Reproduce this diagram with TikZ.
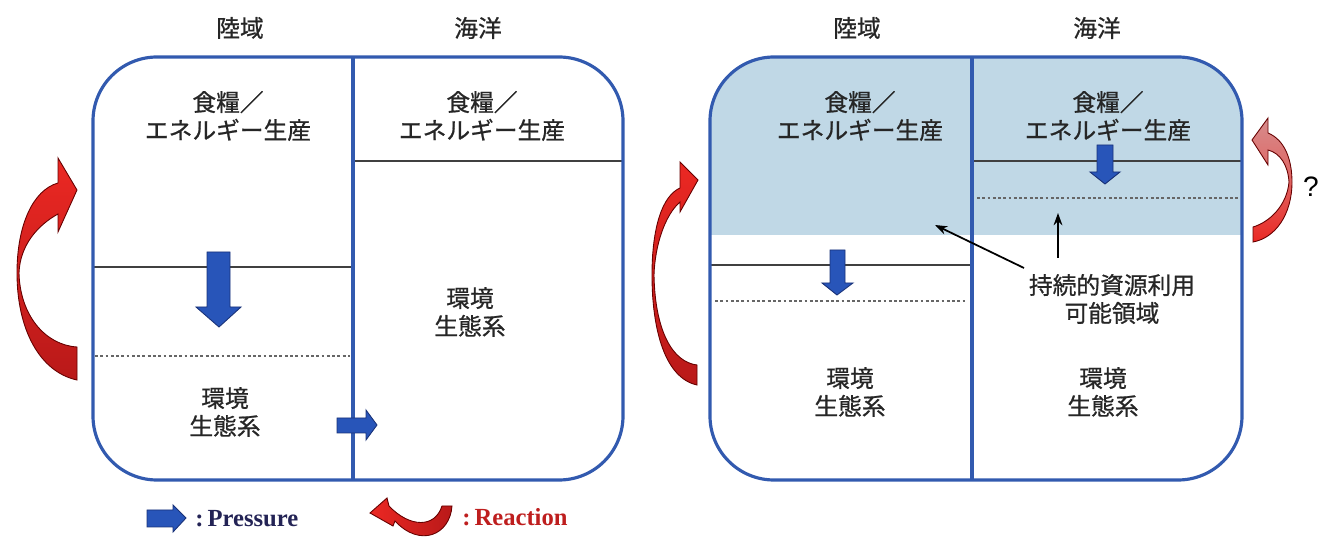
\documentclass[tikz,border=0pt]{standalone}
\usepackage{fontspec}
\setmainfont{Liberation Serif}
\newfontfamily\jp[FakeBold=0.8]{Noto Sans CJK JP}
\usetikzlibrary{arrows.meta}
\definecolor{boxblue}{RGB}{50,90,175}
\definecolor{arrblue}{RGB}{40,85,185}
\definecolor{arrbluedark}{RGB}{25,50,120}
\definecolor{zoneblue}{RGB}{192,216,230}
\definecolor{redA}{RGB}{235,40,35}
\definecolor{redB}{RGB}{185,25,25}
\definecolor{pinkA}{RGB}{215,140,140}
\definecolor{navy}{RGB}{35,35,85}
\definecolor{reacred}{RGB}{190,30,30}
\tikzset{
  frame/.style={draw=boxblue,line width=1.8pt,rounded corners=1.28cm},
  divider/.style={draw=boxblue,line width=1.8pt},
  solidline/.style={draw=black!75,line width=0.6pt},
  dotline/.style={draw=black!60,line width=0.6pt,dash pattern=on 1.6pt off 1.4pt},
  jptext/.style={font=\jp\fontsize{13.5}{15.9}\selectfont,align=center,inner sep=0pt,text=black!85},
  bluearrow/.style={fill=arrblue,draw=arrbluedark,line width=0.5pt},
  redarrow/.style={draw=black!60!red,line width=0.5pt,top color=redA,bottom color=redB},
  pointer/.style={draw=black,line width=1pt,-{Stealth[length=7pt,width=5pt]}},
}
\begin{document}
\begin{tikzpicture}[x=0.02cm,y=-0.02cm]
\useasboundingbox (0,0) rectangle (1323,540);
% ===== Left diagram =====
\node[jptext] (h1) at (240,28) {陸域};
\node[jptext] (h2) at (478,28) {海洋};
\draw[solidline] (93,267) -- (353,267);
\draw[dotline] (95,356) -- (350,356);
\draw[solidline] (353,161) -- (623,161);
\draw[frame] (93,57) rectangle (623,480);
\draw[divider] (353,57) -- (353,480);
\node[jptext] (l1food) at (228,116) {食糧／\\エネルギー生産};
\node[jptext] (l2food) at (482,116) {食糧／\\エネルギー生産};
\node[jptext] (l1env) at (225,412) {環境\\生態系};
\node[jptext] (l2env) at (470,312) {環境\\生態系};
% big down arrow
\draw[bluearrow] (207,252) -- (230,252) -- (230,307) -- (241,307) -- (219,327) -- (196,307) -- (207,307) -- cycle;
% small right arrow
\draw[bluearrow] (337,418) -- (366,418) -- (366,410) -- (377,425) -- (366,440) -- (366,433) -- (337,433) -- cycle;
% left reaction arrow
\draw[redarrow] (77,380) .. controls (40,372) and (17,330) .. (17,273)
  .. controls (17,225) and (33,190) .. (58,183)
  -- (58,158) -- (77,190) -- (58,232) -- (58,214)
  .. controls (38,225) and (20,245) .. (19,273)
  .. controls (20,315) and (45,345) .. (77,347) -- cycle;
% ===== Right diagram =====
\node[jptext] (h3) at (857,28) {陸域};
\node[jptext] (h4) at (1097,28) {海洋};
\begin{scope}
  \clip[rounded corners=1.28cm] (710,57) rectangle (1242,480);
  \fill[zoneblue] (705,50) rectangle (1250,235);
\end{scope}
\draw[solidline] (710,265) -- (972,265);
\draw[dotline] (715,301) -- (965,301);
\draw[solidline] (972,161) -- (1242,161);
\draw[dotline] (977,198) -- (1238,198);
\draw[frame] (710,57) rectangle (1242,480);
\draw[divider] (972,57) -- (972,480);
\node[jptext] (r1food) at (860,116) {食糧／\\エネルギー生産};
\node[jptext] (r2food) at (1108,116) {食糧／\\エネルギー生産};
\node[jptext] (r1env) at (850,392) {環境\\生態系};
\node[jptext] (r2env) at (1103,392) {環境\\生態系};
\node[jptext] (sus) at (1112,299) {持続的資源利用\\可能領域};
% blue arrows
\draw[bluearrow] (830,250) -- (845,250) -- (845,283) -- (853,283) -- (837,295) -- (822,283) -- (830,283) -- cycle;
\draw[bluearrow] (1097,145) -- (1113,145) -- (1113,172) -- (1120,172) -- (1105,184) -- (1090,172) -- (1097,172) -- cycle;
% pointers
\coordinate (p1s) at (1024,268);
\coordinate (p1e) at (935,225);
\coordinate (p2s) at (1058,258);
\coordinate (p2e) at (1058,213);
\draw[pointer] (p1s) -- (p1e);
\draw[pointer] (p2s) -- (p2e);
% left reaction arrow (right diagram)
\draw[redarrow] (697,385) .. controls (665,378) and (652,330) .. (652,275)
  .. controls (652,228) and (662,196) .. (680,188)
  -- (680,162) -- (698,180) -- (680,212) -- (680,202)
  .. controls (665,215) and (655,245) .. (654,275)
  .. controls (655,330) and (672,362) .. (697,365) -- cycle;
% "?" reaction arrow
\draw[draw=black!60!red,line width=0.5pt,top color=pinkA,bottom color=redA,middle color=pinkA!60!redA]
  (1268,133) .. controls (1285,140) and (1292,160) .. (1292,182)
  .. controls (1292,215) and (1275,238) .. (1253,242)
  -- (1253,227) .. controls (1270,222) and (1287,205) .. (1289,182)
  .. controls (1288,165) and (1280,153) .. (1268,150)
  -- (1268,165) -- (1252,140) -- (1268,118) -- cycle;
\node[font=\fontspec{Liberation Sans}\fontsize{16}{18}\selectfont,inner sep=0pt] (q) at (1311,187) {?};
% ===== Legend =====
\draw[bluearrow] (147,510) -- (173,510) -- (173,505) -- (186,518) -- (173,532) -- (173,527) -- (147,527) -- cycle;
\node[anchor=west,inner sep=0pt,text=navy,font=\bfseries\fontsize{14}{16}\selectfont] (press) at (195,519) {:\,Pressure};
\draw[draw=black!60!red,line width=0.5pt,left color=redA,right color=redB]
  (370,513) -- (387,498) -- (389,506) .. controls (410,528) and (435,528) .. (442,506)
  -- (452,506) .. controls (450,535) and (420,548) .. (395,521) -- (393,526) -- cycle;
\node[anchor=west,inner sep=0pt,text=reacred,font=\bfseries\fontsize{14}{16}\selectfont] (react) at (462,517) {:\,Reaction};
\end{tikzpicture}
\end{document}
